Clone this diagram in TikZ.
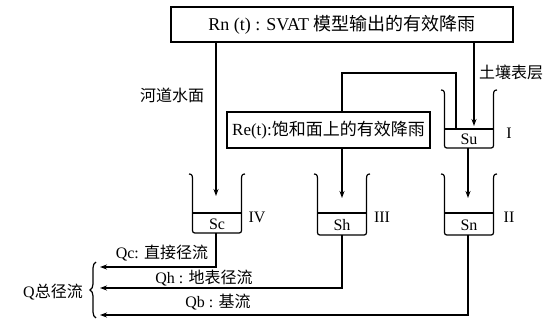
\documentclass[tikz,border=0pt]{standalone}
\usepackage{fontspec}
\setmainfont{Liberation Serif}
\newfontfamily\cjk{Noto Sans CJK SC}
\usetikzlibrary{decorations.pathreplacing,arrows.meta}
\tikzset{
  lbl/.style={font=\fontsize{16}{18}\selectfont, inner sep=1pt},
  wbox/.style={draw, line width=1.2pt, fill=white, inner sep=2pt},
  flow/.style={line width=1.2pt},
  inflow/.style={flow, -{Stealth[length=7pt,width=5pt]}}
}
\begin{document}
\begin{tikzpicture}[x=1pt,y=-1pt]
\useasboundingbox (0,0) rectangle (560,320);

% buckets: x centre / lip / water level / bottom / label / numeral
\foreach \nm/\x/\t/\w/\b/\s/\r in {su/469/90/129/148/Su/I, sn/469/174/213/235/Sn/II, sh/342/174/213/235/Sh/III, sc/217/174/213/233/Sc/IV} {
  \draw[flow] (\x-28,\t) .. controls (\x-24.5,\t) and (\x-24.5,\t+2) .. (\x-24.5,\t+7)
     -- (\x-24.5,\b-5) .. controls (\x-24.5,\b) .. (\x-19.5,\b)
     -- (\x+19.5,\b) .. controls (\x+24.5,\b) .. (\x+24.5,\b-5)
     -- (\x+24.5,\t+7) .. controls (\x+24.5,\t+2) and (\x+24.5,\t) .. (\x+28,\t);
  \draw[flow] (\x-24.5,\w) -- (\x+24.5,\w);
  \node[lbl] (\nm) at (\x,{(\w+\b)/2+1}) {\s};
  \node[lbl] (\nm-num) at (\x+40,\w+4) {\r};
}

\coordinate (su-in) at (474,126);
\coordinate (su-over) at (456,129);
\coordinate (over) at (456,73);
\coordinate (su-bot) at (468,148);
\coordinate (sn-in) at (468,198);
\coordinate (sn-bot) at (468,235);
\coordinate (sh-in) at (342,198);
\coordinate (sh-bot) at (342,235);
\coordinate (sc-in) at (216,196);
\coordinate (sc-bot) at (216,233);
\coordinate (qc) at (100,267);
\coordinate (qh) at (100,288);
\coordinate (qb) at (100,315);

\node[wbox, minimum width=342pt, minimum height=35pt, font=\fontsize{18}{20}\selectfont] (rn) at (342,24.5)
  {Rn (t) : SVAT {\cjk 模型输出的有效降雨}};
\node[wbox, minimum width=203pt, minimum height=36pt, font=\fontsize{17}{19}\selectfont] (re) at (328.5,130)
  {Re(t):{\cjk 饱和面上的有效降雨}};

\draw[inflow] (rn.south -| sc-in) -- (sc-in);
\draw[inflow] (rn.south -| su-in) -- (su-in);
\draw[flow] (su-over) -- (over) -| (re.north -| sh-in);
\draw[inflow] (re.south -| sh-in) -- (sh-in);
\draw[inflow] (su-bot) -- (sn-in);

\node[lbl] (chan) at (172,95) {\cjk 河道水面};
\node[lbl] (soil) at (511,72) {\cjk 土壤表层};

\draw[inflow] (sc-bot) |- (qc);
\draw[inflow] (sh-bot) |- (qh);
\draw[inflow] (sn-bot) |- (qb);

\node[lbl] (qc-l) at (162,253) {Qc: {\cjk 直接径流}};
\node[lbl] (qh-l) at (204,278) {Qh : {\cjk 地表径流}};
\node[lbl] (qb-l) at (218,302) {Qb : {\cjk 基流}};

\draw[flow, decorate, decoration={brace, amplitude=6pt}] (96,318) -- (96,262);
\node[lbl, anchor=east] (q) at (84,292) {Q{\cjk 总径流}};
\end{tikzpicture}
\end{document}
